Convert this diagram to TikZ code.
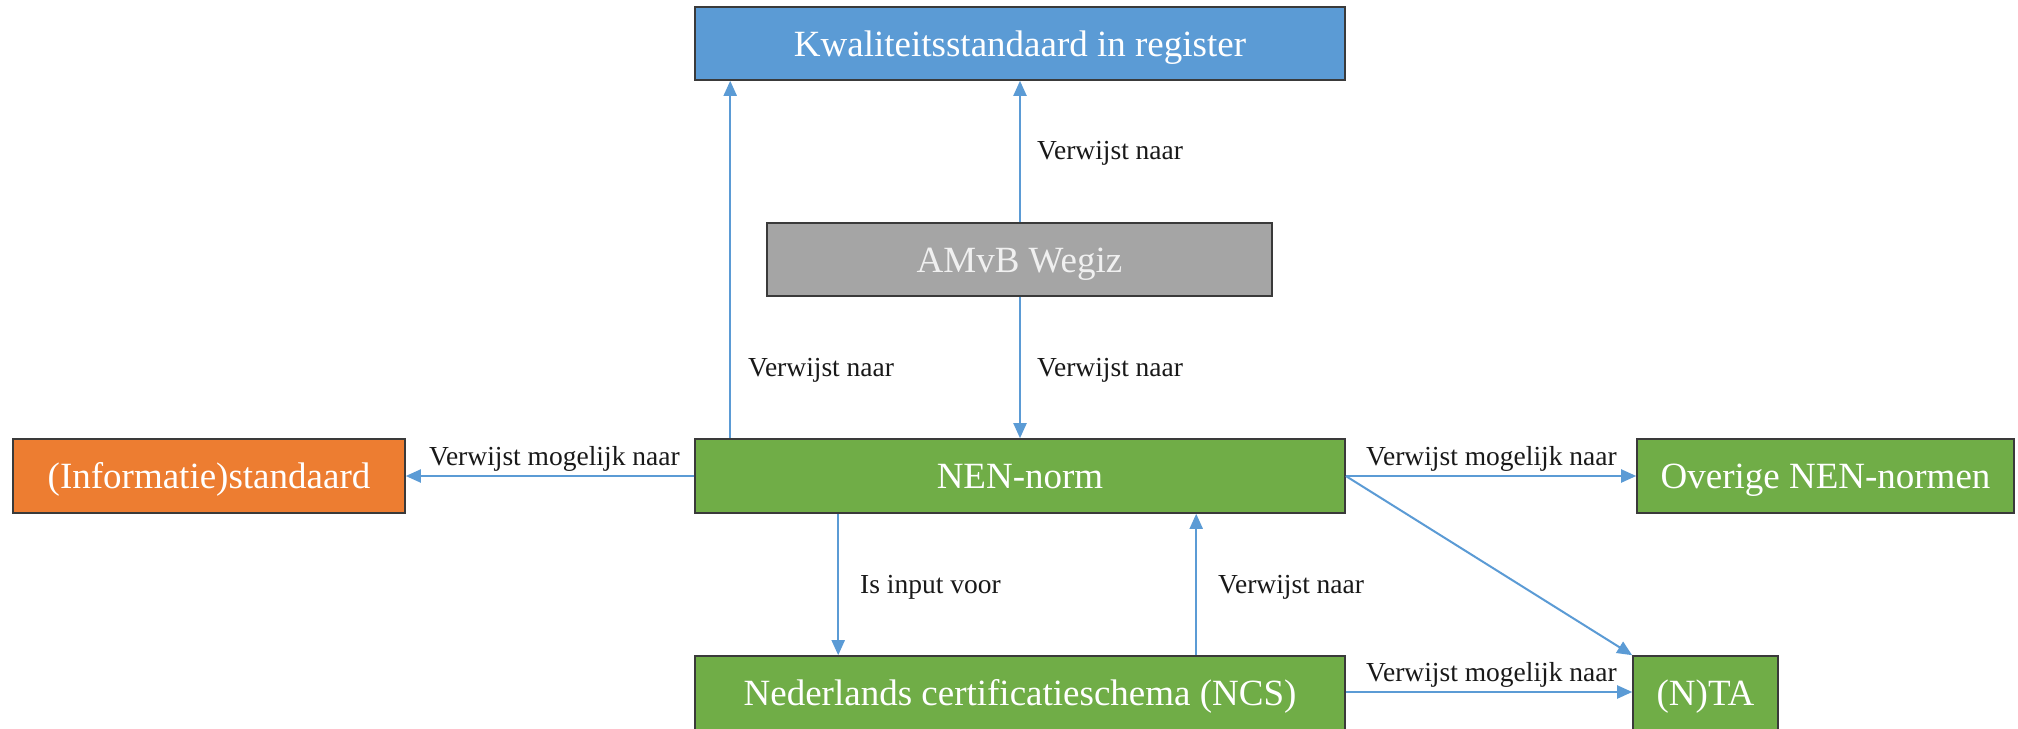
\documentclass[tikz,border=0pt]{standalone}
\usepackage{fontspec}
\setmainfont{Liberation Serif}
\usetikzlibrary{arrows.meta}
\definecolor{cblue}{HTML}{5B9BD5}
\definecolor{cgreen}{HTML}{70AD47}
\definecolor{corange}{HTML}{ED7D31}
\definecolor{cgray}{HTML}{A5A5A5}
\definecolor{cline}{HTML}{5B9BD5}
\definecolor{cborder}{HTML}{3A3A3A}
\tikzset{
  box/.style={draw=cborder, line width=1.6pt, rectangle, inner sep=0pt,
    text=white, font=\fontsize{37}{44}\selectfont, text height=25pt, text depth=0pt},
  lbl/.style={inner sep=0pt, anchor=west, text=black!90,
    font=\fontsize{27.5}{33}\selectfont, text height=18pt, text depth=0pt},
  arr/.style={draw=cline, line width=2pt, -{Triangle[length=15pt,width=13pt]}}
}
\begin{document}
\begin{tikzpicture}[x=1pt,y=-1pt]
\useasboundingbox (0,0) rectangle (2018,728);
\fill[white] (0,0) rectangle (2018,728);
% boxes
\node[box, fill=cblue, minimum width=650pt, minimum height=73pt] (kwal) at (1020,43.5) {Kwaliteitsstandaard in register};
\node[box, fill=cgray, text=white!94!black, minimum width=505pt, minimum height=73pt] (amvb) at (1019.5,259.5) {AMvB Wegiz};
\node[box, fill=cgreen, minimum width=650pt, minimum height=74pt] (nen) at (1020,476) {NEN-norm};
\node[box, fill=corange, minimum width=392pt, minimum height=74pt] (info) at (209,476) {(Informatie)standaard};
\node[box, fill=cgreen, minimum width=377pt, minimum height=74pt] (over) at (1825.5,476) {Overige NEN-normen};
\node[box, fill=cgreen, minimum width=650pt, minimum height=90pt, text depth=16pt] (ncs) at (1020,701) {Nederlands certificatieschema (NCS)};
\node[box, fill=cgreen, minimum width=145pt, minimum height=90pt, text depth=16pt] (nta) at (1705.5,701) {(N)TA};
% connectors
\draw[arr] ([xshift=36pt]nen.north west) -- ([xshift=36pt]kwal.south west);
\draw[arr] (amvb.north -| kwal.south) -- (kwal.south);
\draw[arr] (amvb.south -| nen.north) -- (nen.north);
\draw[arr] (nen.west) -- (info.east);
\draw[arr] (nen.east) -- (over.west);
\draw[arr] (nen.east) -- (nta.north west);
\draw[arr] ([xshift=144pt]nen.south west) -- ([xshift=144pt]ncs.north west);
\draw[arr] ([xshift=502pt]ncs.north west) -- ([xshift=502pt]nen.south west);
\draw[arr] (ncs.east |- 0,692) -- (nta.west |- 0,692);
% labels
\node[lbl] (l1) at (748,367) {Verwijst naar};
\node[lbl] (l2) at (1037,150) {Verwijst naar};
\node[lbl] (l3) at (1037,367) {Verwijst naar};
\node[lbl] (l4) at (429,456) {Verwijst mogelijk naar};
\node[lbl] (l5) at (1366,456) {Verwijst mogelijk naar};
\node[lbl] (l6) at (860,584) {Is input voor};
\node[lbl] (l7) at (1218,584) {Verwijst naar};
\node[lbl] (l8) at (1366,672) {Verwijst mogelijk naar};
\end{tikzpicture}
\end{document}
